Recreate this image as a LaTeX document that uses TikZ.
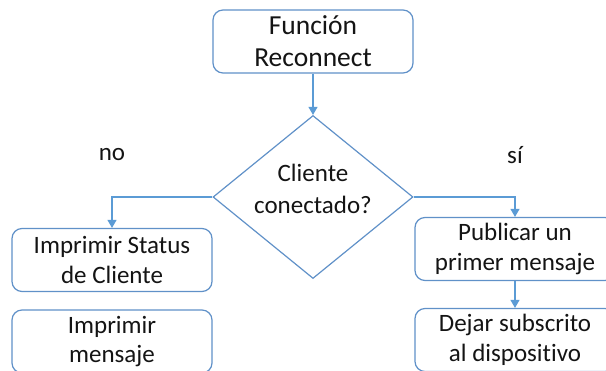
\documentclass[tikz,border=0pt]{standalone}
\usepackage{fontspec}
\setmainfont{Carlito}[Ligatures=NoCommon]
\usetikzlibrary{shapes.geometric,arrows.meta}
\definecolor{edgeblue}{RGB}{96,145,200}
\definecolor{linkblue}{RGB}{91,155,213}
\definecolor{ink}{RGB}{20,20,20}
\tikzset{
  procbox/.style={draw=edgeblue, line width=1.2pt, rounded corners=10pt,
    minimum width=200pt, minimum height=63pt, inner sep=0pt, align=center,
    text=ink, font=\fontsize{25}{29.5}\selectfont},
  decbox/.style={draw=edgeblue, line width=1.2pt, diamond, aspect=1.23,
    minimum width=200pt, minimum height=163pt, inner sep=0pt},
  link/.style={draw=linkblue, line width=1.2pt,
    -{Triangle[width=9pt,length=8pt]}},
  branch/.style={text=ink, font=\fontsize{25}{29}\selectfont}
}
\begin{document}
\begin{tikzpicture}[x=1pt,y=-1pt]
\useasboundingbox (0,0) rectangle (606,371);
% start of the routine
\node[procbox, font=\fontsize{27.5}{32}\selectfont] (start) at (313,41.5) {Función\\Reconnect};
% connection test
\node[decbox] (test) at (313,197) {};
\node[align=center, text=ink, font=\fontsize{25}{32}\selectfont] (testtxt) at (313,189) {Cliente\\conectado?};
% "no" branch
\node[procbox] (status) at (112,260) {Imprimir Status\\de Cliente};
\node[procbox] (print) at (112,341.5) {Imprimir\\mensaje};
% "yes" branch
\node[procbox] (publish) at (515,249) {Publicar un\\primer mensaje};
\node[procbox] (subscribe) at (515,340) {Dejar subscrito\\al dispositivo};
% branch labels
\node[branch] (nolbl) at (112,155) {no};
\node[branch] (yeslbl) at (515,155) {sí};
% connectors
\draw[link] (start.south) -- (test.north);
\draw[link] (test.west) -| (status.north);
\draw[link] (test.east) -| (publish.north);
\draw[link] (publish.south) -- (subscribe.north);
\end{tikzpicture}
\end{document}
